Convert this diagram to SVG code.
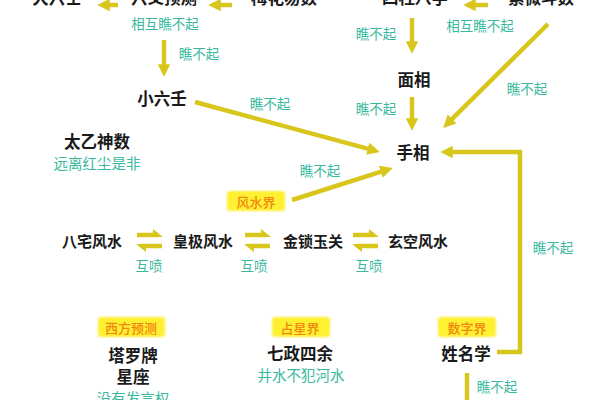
<svg xmlns="http://www.w3.org/2000/svg" width="600" height="400" viewBox="0 0 600 400">
<style>
.n{font-family:"Noto Sans CJK SC","Noto Sans",sans-serif;font-weight:700;font-size:16.5px;fill:#1a1a1a;text-anchor:middle;dominant-baseline:central}
.f{font-size:15px}
.l{font-family:"Noto Sans CJK SC","Noto Sans",sans-serif;font-size:13.5px;fill:#38b99d;text-anchor:middle;dominant-baseline:central}
.s{font-size:14.5px}
.t{font-family:"Noto Sans CJK SC","Noto Sans",sans-serif;font-size:13px;font-weight:500;fill:#ef8610;text-anchor:middle;dominant-baseline:central}
.c{fill:none;stroke:#d8c61c;stroke-width:4.5}
.h{fill:#d8c61c;stroke:none}
.hb{fill:#fff030}
</style>
<defs>
<marker id="ah" viewBox="0 0 10 10" refX="3" refY="5" markerWidth="2.8" markerHeight="2.8" orient="auto" markerUnits="strokeWidth">
<path d="M0,0 L10,5 L0,10 z" fill="#d8c61c"/>
</marker>
<filter id="soft" x="-20%" y="-30%" width="140%" height="160%"><feGaussianBlur stdDeviation="1.2"/></filter>
</defs>
<rect width="600" height="400" fill="#ffffff"/>

<g id="connectors">
<line class="c" x1="118" y1="5" x2="106" y2="5" marker-end="url(#ah)"/>
<line class="c" x1="232" y1="5" x2="217" y2="5" marker-end="url(#ah)"/>
<line class="c" x1="488" y1="5" x2="472" y2="5" marker-end="url(#ah)"/>
<line class="c" x1="164" y1="40" x2="164" y2="68" marker-end="url(#ah)"/>
<line class="c" x1="412" y1="18" x2="412" y2="45" marker-end="url(#ah)"/>
<line class="c" x1="412" y1="97" x2="412" y2="122" marker-end="url(#ah)"/>
<line class="c" x1="548" y1="24" x2="449.4" y2="121.7" marker-end="url(#ah)"/>
<line class="c" x1="195" y1="102" x2="371.3" y2="149.7" marker-end="url(#ah)"/>
<line class="c" x1="292" y1="200" x2="384.4" y2="170.7" marker-end="url(#ah)"/>
<path class="c" d="M497,352 H520 V152 H449" marker-end="url(#ah)"/>
<line class="c" x1="467" y1="373" x2="467" y2="404"/>
<g id="swap1">
<line class="c" x1="137" y1="235" x2="158" y2="235" stroke-width="3.5"/><polygon class="h" points="163,237 153,229 153,237"/>
<line class="c" x1="141" y1="246" x2="162" y2="246" stroke-width="3.5"/><polygon class="h" points="136,244 146,252 146,244"/>
</g>
<g id="swap2">
<line class="c" x1="245" y1="235" x2="266" y2="235" stroke-width="3.5"/><polygon class="h" points="271,237 261,229 261,237"/>
<line class="c" x1="249" y1="246" x2="270" y2="246" stroke-width="3.5"/><polygon class="h" points="244,244 254,252 254,244"/>
</g>
<g id="swap3">
<line class="c" x1="353" y1="235" x2="374" y2="235" stroke-width="3.5"/><polygon class="h" points="379,237 369,229 369,237"/>
<line class="c" x1="357" y1="246" x2="378" y2="246" stroke-width="3.5"/><polygon class="h" points="352,244 362,252 362,244"/>
</g>
</g>

<g id="edge-labels">
<text class="l" x="165" y="23">相互瞧不起</text>
<text class="l" x="199" y="53">瞧不起</text>
<text class="l" x="480" y="25">相互瞧不起</text>
<text class="l" x="376" y="33">瞧不起</text>
<text class="l" x="376" y="108">瞧不起</text>
<text class="l" x="527" y="88">瞧不起</text>
<text class="l" x="270" y="103">瞧不起</text>
<text class="l" x="320" y="170">瞧不起</text>
<text class="l" x="553" y="247">瞧不起</text>
<text class="l" x="497" y="386">瞧不起</text>
<text class="l" x="149" y="265">互喷</text>
<text class="l" x="254" y="265">互喷</text>
<text class="l" x="369" y="265">互喷</text>
</g>

<g id="n-daliuren"><text class="n" x="57" y="-3">大六壬</text></g>
<g id="n-liuyao"><text class="n" x="164" y="-3">六爻预测</text></g>
<g id="n-meihua"><text class="n" x="284" y="-3">梅花易数</text></g>
<g id="n-sizhu"><text class="n" x="415" y="-3">四柱八字</text></g>
<g id="n-ziwei"><text class="n" x="541" y="-3">紫微斗数</text></g>
<g id="n-xiaoliuren"><text class="n" x="162" y="98">小六壬</text></g>
<g id="n-mianxiang"><text class="n" x="414" y="79">面相</text></g>
<g id="n-shouxiang"><text class="n" x="413" y="152">手相</text></g>
<g id="n-taiyi"><text class="n" x="97" y="141">太乙神数</text><text class="l s" x="97" y="162.5">远离红尘是非</text></g>
<g id="n-fengshuijie"><rect class="hb" x="227" y="191" width="58" height="20" rx="3" filter="url(#soft)"/><text class="t" x="256" y="201">风水界</text></g>
<g id="n-bazhai"><text class="n f" x="92" y="240">八宅风水</text></g>
<g id="n-huangji"><text class="n f" x="203" y="240">皇极风水</text></g>
<g id="n-jinsuo"><text class="n f" x="313" y="240">金锁玉关</text></g>
<g id="n-xuankong"><text class="n f" x="418" y="240">玄空风水</text></g>
<g id="n-xifang"><rect class="hb" x="98" y="317" width="67" height="20" rx="3" filter="url(#soft)"/><text class="t" x="131" y="327">西方预测</text></g>
<g id="n-taluo"><text class="n" x="133" y="355">塔罗牌</text><text class="n" x="133" y="376">星座</text><text class="l s" x="133" y="397">没有发言权</text></g>
<g id="n-zhanxing"><rect class="hb" x="272" y="317" width="58" height="20" rx="3" filter="url(#soft)"/><text class="t" x="300" y="327">占星界</text></g>
<g id="n-qizheng"><text class="n" x="300" y="353">七政四余</text><text class="l s" x="301" y="374">井水不犯河水</text></g>
<g id="n-shuzi"><rect class="hb" x="438" y="317" width="58" height="20" rx="3" filter="url(#soft)"/><text class="t" x="467" y="327">数字界</text></g>
<g id="n-xingming"><text class="n" x="466" y="353">姓名学</text></g>
</svg>
